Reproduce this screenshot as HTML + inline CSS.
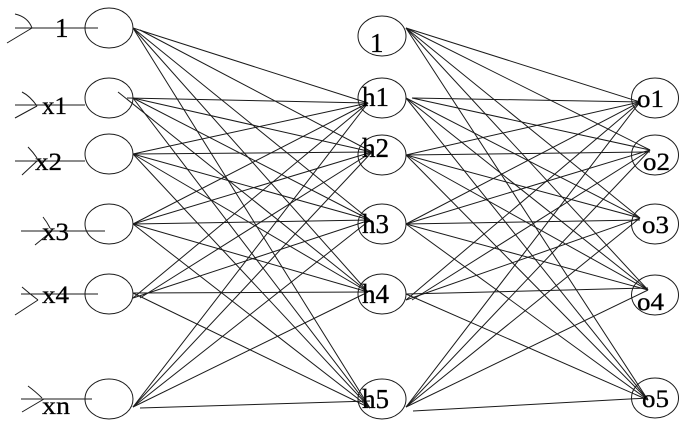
<!DOCTYPE html>
<html><head><meta charset="utf-8"><style>
html,body{margin:0;padding:0;background:#fff;}
svg{display:block;}
text{font-family:"Liberation Serif","DejaVu Serif",serif;fill:#000;stroke:#000;stroke-width:0.3px;}
</style></head><body>
<svg width="693" height="433" viewBox="0 0 693 433" xmlns="http://www.w3.org/2000/svg">
<g stroke="#1a1a1a" stroke-width="1" fill="none">
<!-- input to hidden -->
<line x1="133" y1="28" x2="368" y2="103"/>
<line x1="140" y1="30" x2="372" y2="152"/>
<line x1="133" y1="28" x2="370" y2="220"/>
<line x1="133" y1="28" x2="368" y2="292"/>
<line x1="133" y1="28" x2="370" y2="408"/>
<line x1="127" y1="98" x2="368" y2="103"/>
<line x1="133" y1="98" x2="372" y2="152"/>
<line x1="133" y1="98" x2="370" y2="220"/>
<line x1="118" y1="92" x2="368" y2="292"/>
<line x1="133" y1="98" x2="370" y2="408"/>
<line x1="133" y1="154" x2="368" y2="103"/>
<line x1="133" y1="154" x2="372" y2="152"/>
<line x1="133" y1="154" x2="370" y2="220"/>
<line x1="133" y1="154" x2="368" y2="292"/>
<line x1="133" y1="154" x2="370" y2="408"/>
<line x1="133" y1="224" x2="368" y2="103"/>
<line x1="133" y1="224" x2="372" y2="152"/>
<line x1="133" y1="224" x2="370" y2="220"/>
<line x1="133" y1="224" x2="368" y2="292"/>
<line x1="133" y1="224" x2="370" y2="408"/>
<line x1="133" y1="298" x2="368" y2="103"/>
<line x1="140" y1="298" x2="372" y2="152"/>
<line x1="133" y1="298" x2="370" y2="220"/>
<line x1="133" y1="293" x2="368" y2="292"/>
<line x1="133" y1="293" x2="370" y2="408"/>
<line x1="133" y1="407" x2="368" y2="103"/>
<line x1="133" y1="407" x2="372" y2="152"/>
<line x1="133" y1="407" x2="370" y2="220"/>
<line x1="133" y1="407" x2="368" y2="292"/>
<line x1="140" y1="408" x2="370" y2="401"/>
<!-- hidden to output -->
<line x1="406" y1="28" x2="640" y2="102"/>
<line x1="406" y1="28" x2="650" y2="150"/>
<line x1="406" y1="28" x2="640" y2="218"/>
<line x1="406" y1="28" x2="648" y2="290"/>
<line x1="406" y1="28" x2="648" y2="400"/>
<line x1="412" y1="98" x2="640" y2="102"/>
<line x1="412" y1="98" x2="650" y2="150"/>
<line x1="406" y1="98" x2="640" y2="218"/>
<line x1="406" y1="98" x2="648" y2="290"/>
<line x1="406" y1="98" x2="648" y2="400"/>
<line x1="406" y1="155" x2="640" y2="102"/>
<line x1="406" y1="155" x2="650" y2="152"/>
<line x1="406" y1="155" x2="640" y2="218"/>
<line x1="406" y1="155" x2="648" y2="290"/>
<line x1="406" y1="155" x2="648" y2="400"/>
<line x1="406" y1="224" x2="640" y2="102"/>
<line x1="406" y1="224" x2="650" y2="150"/>
<line x1="406" y1="224" x2="640" y2="220"/>
<line x1="406" y1="224" x2="648" y2="290"/>
<line x1="406" y1="224" x2="648" y2="400"/>
<line x1="406" y1="300" x2="640" y2="102"/>
<line x1="412" y1="300" x2="650" y2="150"/>
<line x1="406" y1="300" x2="640" y2="218"/>
<line x1="406" y1="294" x2="648" y2="288"/>
<line x1="406" y1="294" x2="648" y2="400"/>
<line x1="406" y1="407" x2="640" y2="102"/>
<line x1="406" y1="407" x2="650" y2="150"/>
<line x1="406" y1="407" x2="640" y2="218"/>
<line x1="406" y1="407" x2="648" y2="290"/>
<line x1="413" y1="411" x2="648" y2="398"/>
<!-- input arrows -->
<line x1="15" y1="28" x2="98" y2="28"/>
<path d="M15,14 Q28,17 32,28"/><line x1="7" y1="43" x2="32" y2="28"/>
<line x1="15" y1="105" x2="85" y2="105"/>
<path d="M22,92 Q30,96 37,106"/><line x1="15" y1="118" x2="37" y2="106"/>
<line x1="15" y1="161" x2="85" y2="161"/>
<path d="M28,147 Q33,152 37,158"/><line x1="22" y1="175" x2="37" y2="161"/>
<line x1="21" y1="231" x2="105" y2="231"/>
<path d="M43,217 Q47,222 50,228"/><line x1="35" y1="245" x2="52" y2="231"/>
<line x1="21" y1="294" x2="98" y2="294"/>
<path d="M22,287 Q30,294 38,300"/><line x1="15" y1="315" x2="38" y2="300"/>
<line x1="21" y1="399" x2="92" y2="399"/>
<path d="M28,386 Q36,392 42,398"/><line x1="22" y1="412" x2="44" y2="399"/>
<!-- ellipses -->
<ellipse cx="109" cy="28" rx="24" ry="20"/>
<ellipse cx="109" cy="98" rx="24" ry="20"/>
<ellipse cx="109" cy="154" rx="24" ry="20"/>
<ellipse cx="109" cy="224" rx="24" ry="20"/>
<ellipse cx="109" cy="294" rx="24" ry="20"/>
<ellipse cx="109" cy="399" rx="24" ry="20"/>
<ellipse cx="382" cy="36" rx="24" ry="20"/>
<ellipse cx="382" cy="98" rx="24" ry="20"/>
<ellipse cx="382" cy="155" rx="24" ry="20"/>
<ellipse cx="382" cy="224" rx="24" ry="20"/>
<ellipse cx="382" cy="294" rx="24" ry="20"/>
<ellipse cx="382" cy="399" rx="24" ry="20"/>
<ellipse cx="655" cy="98" rx="23.5" ry="20"/>
<ellipse cx="655" cy="155" rx="23.5" ry="20"/>
<ellipse cx="655" cy="224" rx="23.5" ry="20"/>
<ellipse cx="655" cy="295" rx="23.5" ry="20"/>
<ellipse cx="655" cy="398" rx="23.5" ry="20"/>
</g>
<!-- labels -->
<text x="55" y="37" style="font-size:27px">1</text>
<text x="42" y="114" style="font-size:25px" textLength="25" lengthAdjust="spacingAndGlyphs">x1</text>
<text x="35" y="170" style="font-size:25px" textLength="27" lengthAdjust="spacingAndGlyphs">x2</text>
<text x="42" y="240" style="font-size:25px" textLength="27" lengthAdjust="spacingAndGlyphs">x3</text>
<text x="42" y="303" style="font-size:25px" textLength="27" lengthAdjust="spacingAndGlyphs">x4</text>
<text x="42" y="414" style="font-size:25px" textLength="28" lengthAdjust="spacingAndGlyphs">xn</text>
<text x="370" y="52" style="font-size:27px">1</text>
<text x="362" y="106" style="font-size:27px" textLength="27" lengthAdjust="spacingAndGlyphs">h1</text>
<text x="362" y="157" style="font-size:27px" textLength="27" lengthAdjust="spacingAndGlyphs">h2</text>
<text x="362" y="233" style="font-size:27px" textLength="27" lengthAdjust="spacingAndGlyphs">h3</text>
<text x="362" y="303" style="font-size:27px" textLength="27" lengthAdjust="spacingAndGlyphs">h4</text>
<text x="362" y="408" style="font-size:27px" textLength="27" lengthAdjust="spacingAndGlyphs">h5</text>
<text x="637" y="107" style="font-size:25px" textLength="27" lengthAdjust="spacingAndGlyphs">o1</text>
<text x="643" y="170" style="font-size:25px" textLength="27" lengthAdjust="spacingAndGlyphs">o2</text>
<text x="642" y="233" style="font-size:25px" textLength="27" lengthAdjust="spacingAndGlyphs">o3</text>
<text x="637" y="310" style="font-size:25px" textLength="27" lengthAdjust="spacingAndGlyphs">o4</text>
<text x="642" y="407" style="font-size:25px" textLength="27" lengthAdjust="spacingAndGlyphs">o5</text>
</svg>
</body></html>
